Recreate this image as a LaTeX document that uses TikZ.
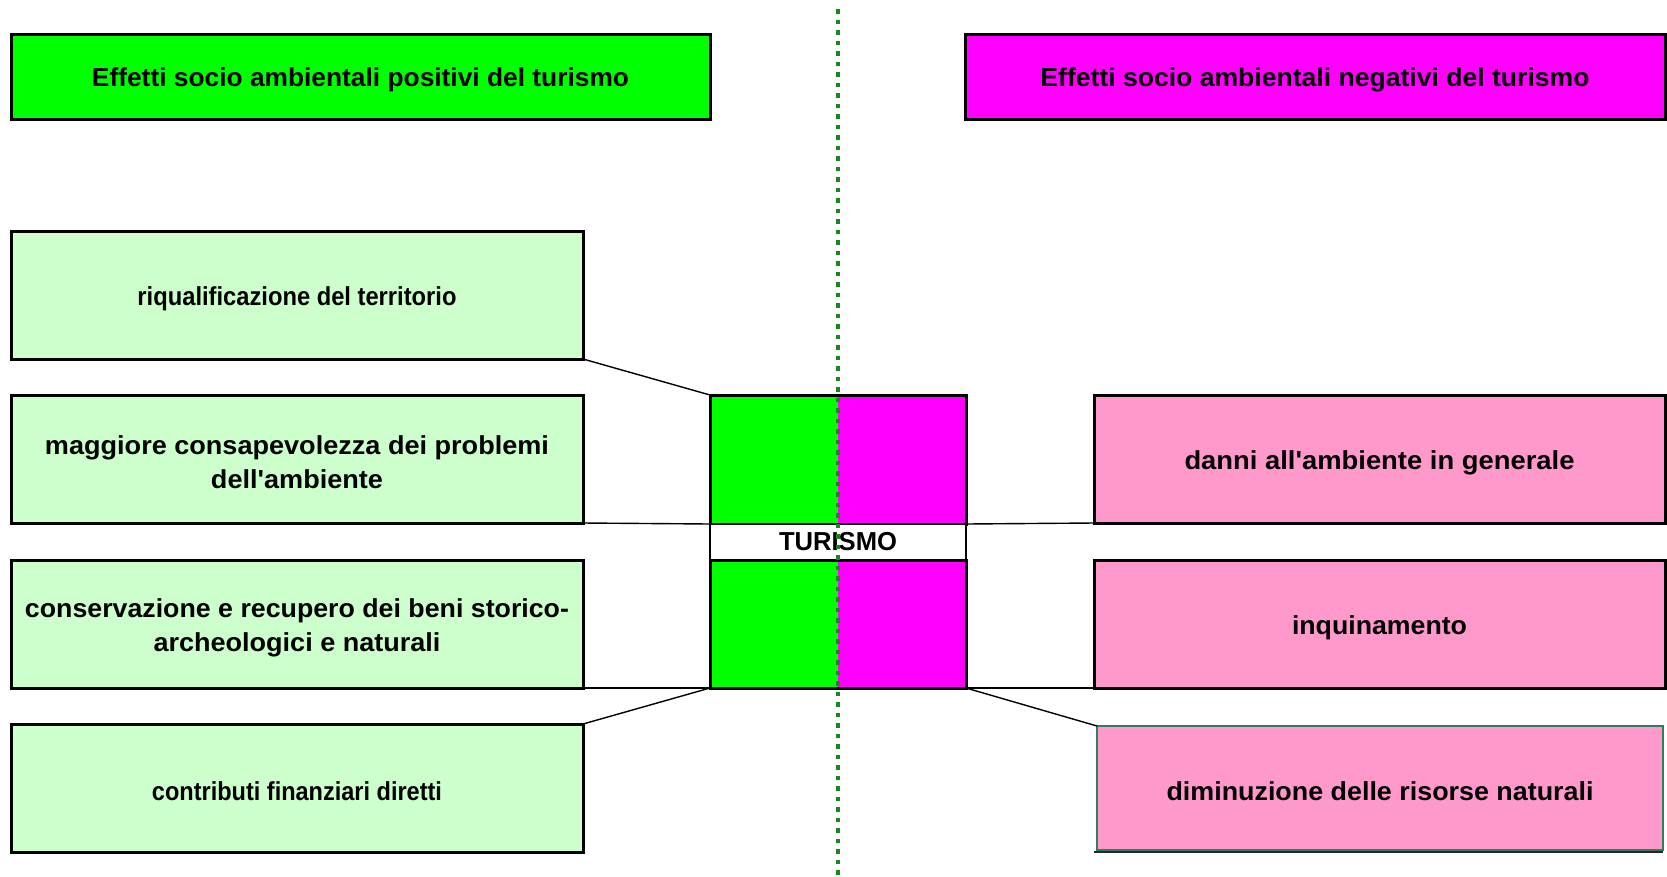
\documentclass[tikz,border=0pt]{standalone}
\usepackage{fontspec}
\setmainfont{Liberation Sans}[Ligatures=TeXOff]
\usepackage{graphicx}
% set a line at the font size in force, scaled horizontally to a given width,
% drawn a little lower than its box
\newcommand{\fitw}[2]{\raisebox{-3.5pt}[\height][\depth]{\resizebox{#1pt}{\height}{#2}}}
\definecolor{hdrgreen}{HTML}{00FF00}
\definecolor{hdrmagenta}{HTML}{FF00FF}
\definecolor{posfill}{HTML}{CCFFCC}
\definecolor{negfill}{HTML}{FF99CC}
\definecolor{axisgreen}{HTML}{138A1B}
\definecolor{edgegreen}{HTML}{2E7D5B}
\tikzset{
  every node/.style={inner sep=0pt, outer sep=0pt,
    font=\fontsize{26}{34}\selectfont\bfseries, align=center},
  cell/.style={draw=black, line width=3pt, rectangle},
  header/.style={cell, minimum height=85pt},
  posbox/.style={cell, fill=posfill, minimum width=572pt, minimum height=128pt},
  negbox/.style={cell, fill=negfill, minimum width=571pt, minimum height=128pt},
  hub/.style={cell, fill=hdrgreen, minimum width=256pt, minimum height=128pt,
    path picture={\fill[hdrmagenta] (path picture bounding box.north)
      rectangle (path picture bounding box.south east);}},
  link/.style={draw=black, line width=1.4pt},
}
\begin{document}
\begin{tikzpicture}[x=1pt, y=-1pt]
\useasboundingbox (0,0) rectangle (1667,876);

% headers
\node[header, fill=hdrgreen, minimum width=699pt] (hpos) at (360.5,76.5)
  {\fitw{537}{Effetti socio ambientali positivi del turismo}};
\node[header, fill=hdrmagenta, minimum width=700pt] (hneg) at (1315,76.5)
  {\fitw{549}{Effetti socio ambientali negativi del turismo}};

% positive effects
\node[posbox] (p1) at (297,295) {\fitw{319}{riqualificazione del territorio}};
\node[posbox] (p2) at (297,459)
  {\fitw{504}{maggiore consapevolezza dei problemi}\\ \fitw{172}{dell'ambiente}};
\node[posbox] (p3) at (297,624)
  {\fitw{544}{conservazione e recupero dei beni storico-}\\ \fitw{287}{archeologici e naturali}};
\node[posbox] (p4) at (297,788) {\fitw{290}{contributi finanziari diretti}};

% central hub
\node[hub, minimum height=129pt] (ctop) at (838,459.5) {};
\node[draw=black, line width=1.2pt, fill=white, minimum width=256pt, minimum height=36pt]
  (tur) at (838,542) {\resizebox{118pt}{\height}{TURISMO}};
\node[hub] (cbot) at (838,624) {};

% negative effects
\node[negbox] (n1) at (1379.5,459) {\fitw{390}{danni all'ambiente in generale}};
\node[negbox] (n2) at (1379.5,624) {\fitw{175}{inquinamento}};
\node[draw=edgegreen, line width=1.6pt, fill=negfill, minimum width=566pt, minimum height=124pt]
  (n3) at (1380,788) {\fitw{427}{diminuzione delle risorse naturali}};
\coordinate (n3bl) at (1094,852);
\coordinate (n3br) at (1663,852);
\draw[line width=2.2pt, black!85] (n3bl) -- (n3br);

% connectors
\draw[link] (p1.south east) -- (ctop.north west);
\draw[link] (p2.south east) -- (tur.north west);
\draw[link] (tur.north east) -- (n1.south west);
\draw[link] (p3.south east) -- (cbot.south west);
\draw[link] (cbot.south east) -- (n2.south west);
\draw[link] (p4.north east) -- (cbot.south west);
\draw[link] (cbot.south east) -- (n3.north west);

% dividing axis
\coordinate (axtop) at (838,9);
\coordinate (axbot) at (838,876);
\draw[axisgreen, line width=4.5pt, dash pattern=on 4.5pt off 6pt] (axtop) -- (axbot);
\end{tikzpicture}
\end{document}
